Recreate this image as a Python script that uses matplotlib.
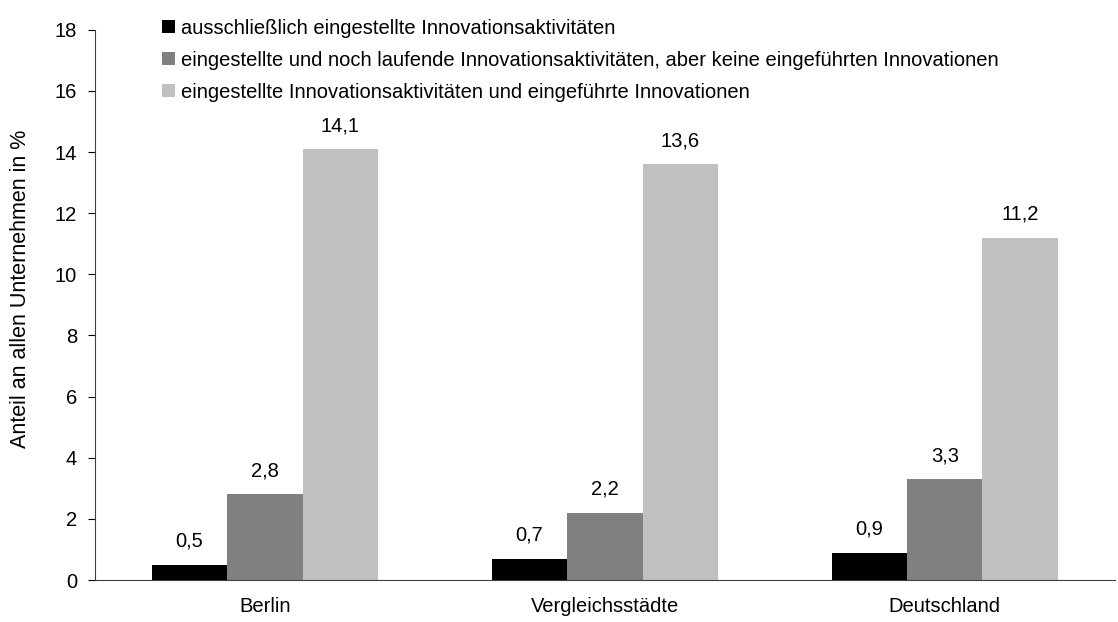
import numpy as np
import matplotlib.pyplot as plt

plt.rcParams['font.family'] = ['Liberation Sans', 'DejaVu Sans']

regionen = ['Berlin', 'Vergleichsstädte', 'Deutschland']
serien = ['ausschließlich eingestellte Innovationsaktivitäten',
          'eingestellte und noch laufende Innovationsaktivitäten, aber keine eingeführten Innovationen',
          'eingestellte Innovationsaktivitäten und eingeführte Innovationen']
nur_eingestellt = [0.5, 0.7, 0.9]
laufend_ohne = [2.8, 2.2, 3.3]
mit_innovation = [14.1, 13.6, 11.2]
farben = ['#000000', '#808080', '#c0c0c0']

fs = 14.5
fig = plt.figure(figsize=(11.18, 6.22), dpi=100)
ax = fig.add_axes([0.085, 0.0675, 0.912, 0.8845])

x = np.arange(len(regionen))
w = 0.222
for i, (werte, name) in enumerate(zip([nur_eingestellt, laufend_ohne, mit_innovation], serien)):
    bars = ax.bar(x + (i - 1) * w, werte, w, color=farben[i], label=name)
    for b, v in zip(bars, werte):
        ax.annotate(('%.1f' % v).replace('.', ','), (b.get_x() + b.get_width() / 2, v),
                    xytext=(0, 10), textcoords='offset points',
                    ha='center', va='bottom', fontsize=fs)

ax.set_xlim(-0.5, 2.5)
ax.set_ylim(0, 18)
ax.set_yticks(range(0, 19, 2))
ax.set_xticks(x)
ax.set_xticklabels(regionen)
ax.tick_params(axis='x', length=0, pad=12, labelsize=fs)
ax.tick_params(axis='y', length=5, direction='out', pad=8, labelsize=fs)
ax.set_ylabel('Anteil an allen Unternehmen in %', fontsize=15.5)
ax.yaxis.set_label_coords(-0.063, 0.53)
for s in ['top', 'right']:
    ax.spines[s].set_visible(False)
for s in ['left', 'bottom']:
    ax.spines[s].set_color('#404040')

ax.legend(loc='upper left', bbox_to_anchor=(0.066, 1.02), frameon=False,
          fontsize=fs, handlelength=0.62, handleheight=0.62, handletextpad=0.3,
          labelspacing=0.65, borderpad=0, borderaxespad=0)

fig.savefig('out.png', dpi=100)
